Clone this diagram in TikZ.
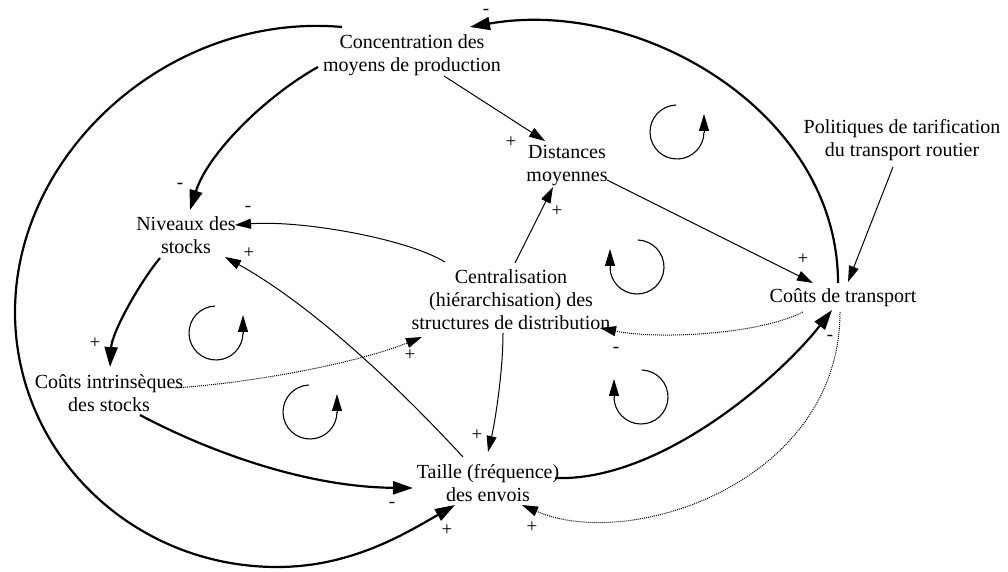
\documentclass[tikz,border=0pt]{standalone}
\usepackage{fontspec}
\setmainfont{Liberation Serif}
\usetikzlibrary{arrows.meta,calc}
\tikzset{
 txt/.style={font=\fontsize{20}{23}\selectfont, align=center, inner sep=1pt},
 sgn/.style={font=\fontsize{19}{19}\selectfont, inner sep=0pt},
 thk/.style={line width=2.2pt, -{Triangle[length=20pt,width=13pt]}},
 thn/.style={line width=1pt, -{Triangle[length=16pt,width=10pt]}},
 dotline/.style={line width=1pt, densely dotted, -{Triangle[length=16pt,width=10pt]}},
 loopline/.style={line width=1.1pt},
 looptip/.style={line width=1pt, -{Triangle[length=17pt,width=10pt]}},
 loopccw/.pic={\draw[loopline] (92:27) arc[start angle=92,end angle=360,radius=27];
               \draw[looptip] (27,-1) -- (27,18);},
 loopcw/.pic={\draw[loopline] (88:27) arc[start angle=88,end angle=-180,radius=27];
              \draw[looptip] (-27,-1) -- (-27,18);},
}
\begin{document}
\begin{tikzpicture}[x=1pt,y=1pt]
\useasboundingbox (0,0) rectangle (1008,572);
% nodes
\node[txt] (conc) at (412,517) {Concentration des\\moyens de production};
\node[txt] (dist) at (567,406) {Distances\\moyennes};
\node[txt] (pol) at (902,432) {Politiques de tarification\\du transport routier};
\node[txt] (niv) at (186,337) {Niveaux des\\stocks};
\node[txt] (cent) at (511,272) {Centralisation\\(hiérarchisation) des\\structures de distribution};
\node[txt] (ct) at (843,274) {Coûts de transport};
\node[txt] (cis) at (109,179) {Coûts intrinsèques\\des stocks};
\node[txt] (taille) at (488,89) {Taille (fréquence)\\des envois};
% loops
\pic (L1) at (677,440) {loopccw};
\pic (L2) at (637,305) {loopcw};
\pic (L3) at (216,239) {loopccw};
\pic (L4) at (310,160) {loopccw};
\pic (L5) at (641,175) {loopcw};
% connectors
\draw[dotline] ($(ct)+(-40,-14)$) .. controls (760,238) and (660,232) .. ($(cent)+(89,-28)$);
\draw[thn] ($(conc)+(32,-21)$) -- ($(dist)+(-22,25)$);
\draw[thn] ($(dist)+(40,-14)$) -- ($(ct)+(-30,15)$);
\draw[thn] ($(cent)+(4,37)$) -- ($(dist)+(-14,-21)$);
\draw[thn] ($(cent)+(-66,38)$) .. controls (405,334) and (300,352) .. ($(niv)+(49,10)$);
\draw[thn] ($(taille)+(-25,26)$) .. controls (378,207) and (299,274) .. ($(niv)+(39,-22)$);
\draw[dotline] ($(cis)+(66,5)$) .. controls (260,190) and (360,210) .. ($(cent)+(-89,-37)$);
\draw[thk] ($(niv)+(-26,-23)$) .. controls (140,290) and (112,240) .. ($(cis)+(1,26)$);
\draw[thk] ($(conc)+(-94,-12)$) .. controls (266,476) and (208,419) .. ($(niv)+(4,25)$);
\draw[thk] ($(conc)+(-70,28)$) .. controls (170,560) and (15,420) .. (15,260)
   .. controls (15,119) and (132,5) .. (277,5)
   .. controls (350,5) and (403,37) .. ($(taille)+(-33,-22)$);
\draw[thk] ($(cis)+(31,-22)$) .. controls (200,125) and (300,85) .. ($(taille)+(-75,-5)$);
\draw[thn] ($(cent)+(-8,-33)$) .. controls (503,200) and (495,150) .. ($(taille)+(0,31)$);
\draw[thk] ($(taille)+(67,5)$) .. controls (660,90) and (780,195) .. ($(ct)+(-11,-12)$);
\draw[dotline] ($(ct)+(-3,-14)$) .. controls (840,90) and (630,20) .. ($(taille)+(34,-22)$);
\draw[thk] ($(ct)+(-5,15)$) .. controls (838,460) and (640,575) .. ($(conc)+(58,28)$);
\draw[thn] ($(pol)+(-9,-27)$) -- ($(ct)+(5,16)$);
% signs
\node[sgn] (s1) at (486,560) {-};
\node[sgn] (s2) at (180,386) {-};
\node[sgn] (s3) at (248,363) {-};
\node[sgn] (s4) at (249,319) {+};
\node[sgn] (s5) at (95,229) {+};
\node[sgn] (s6) at (511,430) {+};
\node[sgn] (s7) at (557,361) {+};
\node[sgn] (s8) at (803,313) {+};
\node[sgn] (s9) at (616,222) {-};
\node[sgn] (s10) at (410,217) {+};
\node[sgn] (s11) at (477,137) {+};
\node[sgn] (s12) at (392,67) {-};
\node[sgn] (s13) at (447,42) {+};
\node[sgn] (s14) at (532,45) {+};
\node[sgn] (s15) at (830,234) {-};
\end{tikzpicture}
\end{document}
